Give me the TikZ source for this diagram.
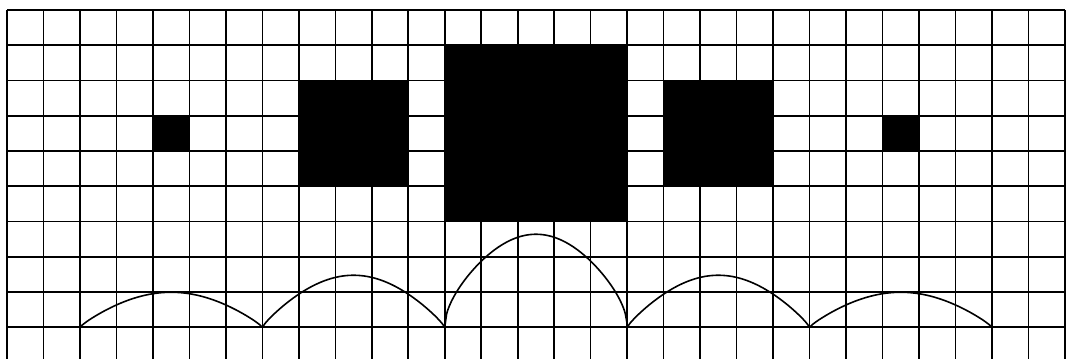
\documentclass[tikz,border=0pt]{standalone}
\begin{document}
\begin{tikzpicture}[x=1pt,y=-1pt,
  gridline/.style={black,line width=1.6pt},
  cell/.style={fill=black},
  lobe/.style={black,line width=1.6pt,line join=round}]
\useasboundingbox (0,0) rectangle (1068,359);
\def\X#1{7+36.48*(#1)}
\def\Y#1{10+35.25*(#1)}
% black cells (drawn first, grid on top)
\fill[cell] ({\X{4}},{\Y{3}}) rectangle ({\X{5}},{\Y{4}});
\fill[cell] ({\X{8}},{\Y{2}}) rectangle ({\X{11}},{\Y{5}});
\fill[cell] ({\X{12}},{\Y{1}}) rectangle ({\X{17}},{\Y{6}});
\fill[cell] ({\X{18}},{\Y{2}}) rectangle ({\X{21}},{\Y{5}});
\fill[cell] ({\X{24}},{\Y{3}}) rectangle ({\X{25}},{\Y{4}});
% grid
\foreach \i in {0,...,29} \draw[gridline] ({\X{\i}},{\Y{0}}) -- ({\X{\i}},359);
\foreach \j in {0,...,9} \draw[gridline] ({\X{0}},{\Y{\j}}) -- ({\X{29}},{\Y{\j}});
% lobes
\pgfmathsetmacro{\base}{10+35.25*9}
\draw[lobe] plot[domain=-1:1,samples=100,smooth] ({536+91.2*\x},{\base-93*sqrt(abs(sin(180*\x)/(pi*\x)))});
\foreach \a/\h in {2/35,7/52,17/52,22/35}
  \draw[lobe] plot[domain=0:1,samples=60,smooth] ({\X{\a}+182.4*\x},{\base-\h*sin(180*\x)^0.85});
\end{tikzpicture}
\end{document}
